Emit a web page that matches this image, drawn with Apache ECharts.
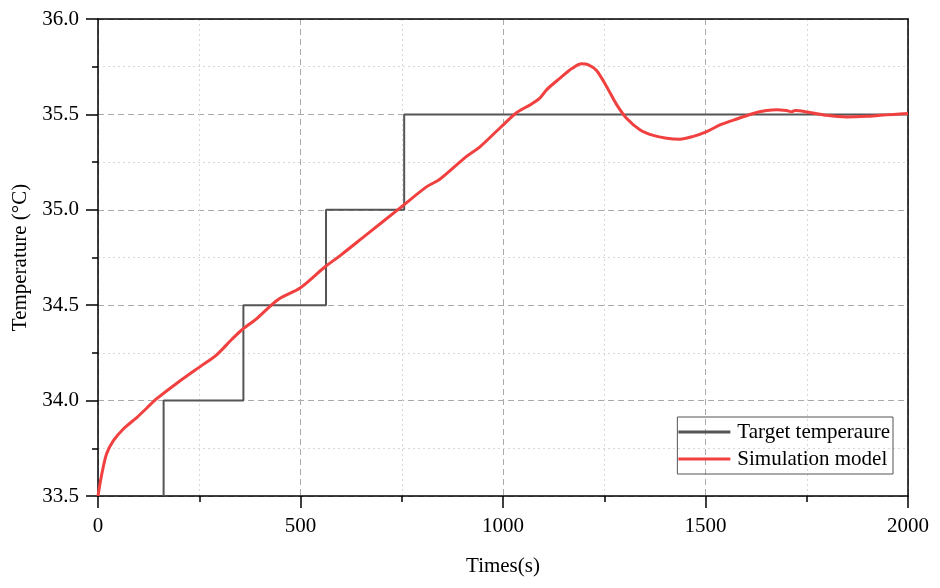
<!DOCTYPE html>
<html>
<head>
<meta charset="utf-8">
<script src="https://cdn.jsdelivr.net/npm/echarts@6/dist/echarts.min.js"></script>
<style>
  html, body { margin: 0; padding: 0; background: #fff; }
  #chart { width: 940px; height: 588px; }
</style>
</head>
<body>
<div id="chart"></div>
<script>
// target temperature (step profile)
var targetTimes = [162, 162, 359, 359, 563, 563, 756, 756, 2000];
var targetTemps = [33.5, 34.0, 34.0, 34.5, 34.5, 35.0, 35.0, 35.5, 35.5];

// simulation model response
var simTimes = [0, 8, 21, 38, 62, 95, 120, 145, 194, 260, 293, 330, 355, 392, 445, 499,
  560, 598, 663, 746, 811, 844, 910, 943, 993, 1034, 1067, 1091, 1108, 1141, 1170,
  1194, 1211, 1231, 1256, 1281, 1305, 1338, 1371, 1404, 1437, 1470, 1503, 1536, 1569,
  1618, 1651, 1676, 1700, 1713, 1721, 1758, 1799, 1849, 1898, 1931, 1964, 2000];
var simTemps = [33.50, 33.60, 33.72, 33.79, 33.85, 33.91, 33.96, 34.01, 34.09, 34.19, 34.24,
  34.32, 34.37, 34.43, 34.53, 34.59, 34.70, 34.76, 34.87, 35.01, 35.12, 35.16, 35.28,
  35.33, 35.43, 35.51, 35.55, 35.585, 35.63, 35.69, 35.74, 35.765, 35.76, 35.73, 35.645,
  35.55, 35.48, 35.42, 35.39, 35.375, 35.37, 35.385, 35.41, 35.445, 35.47, 35.505, 35.52,
  35.525, 35.52, 35.514, 35.52, 35.51, 35.495, 35.487, 35.49, 35.495, 35.50, 35.505];

var seriesNames = ['Target temperaure', 'Simulation model'];
var seriesColors = ['#555', '#f0403f'];

function pairs(xs, ys) {
  return xs.map(function (x, i) { return [x, ys[i]]; });
}

var font = '"Liberation Serif", "Times New Roman", serif';

var tickStyle = { color: '#000', width: 1.5 };
var mainLine = { onZero: false, lineStyle: { color: '#000', width: 1.5 } };
var majorGrid = { show: true, lineStyle: { color: '#aaa', type: [6, 4], width: 1 } };
var minorGrid = { show: true, lineStyle: { color: '#d8d8d8', type: [2, 3], width: 1 } };
var labelFont = { fontFamily: font, fontSize: 21, color: '#000' };

// plain frame lines for top and right
var frameAxis = {
  type: 'value',
  axisLine: mainLine,
  axisTick: { show: false },
  axisLabel: { show: false },
  splitLine: { show: false }
};

var chart = echarts.init(document.getElementById('chart'));

var option = {
  backgroundColor: '#fff',
  animation: false,
  grid: { left: 98, right: 32, top: 19, bottom: 92 },
  legend: {
    orient: 'vertical',
    right: 47, top: 417,
    icon: 'rect',
    itemWidth: 52, itemHeight: 3, itemGap: 5,
    padding: [4, 3, 4, 1],
    borderColor: '#555', borderWidth: 1,
    textStyle: { fontFamily: font, fontSize: 21, color: '#000', lineHeight: 22, padding: [0, 0, 0, 2] },
    data: seriesNames
  },
  xAxis: [
    {
      type: 'value',
      min: 0, max: 2000, interval: 500,
      name: 'Times(s)', nameLocation: 'middle', nameGap: 60,
      nameTextStyle: labelFont,
      axisLine: mainLine,
      axisTick: { inside: false, length: 12, lineStyle: tickStyle },
      minorTick: { show: true, splitNumber: 2, length: 6, lineStyle: tickStyle },
      axisLabel: Object.assign({ margin: 20, formatter: function (v) { return String(v); } }, labelFont),
      splitLine: majorGrid,
      minorSplitLine: minorGrid
    },
    Object.assign({ position: 'top', min: 0, max: 2000 }, frameAxis)
  ],
  yAxis: [
    {
      type: 'value',
      min: 33.5, max: 36.0, interval: 0.5,
      name: 'Temperature (°C)', nameLocation: 'middle', nameGap: 66,
      nameTextStyle: labelFont,
      axisLine: mainLine,
      axisTick: { inside: false, length: 12, lineStyle: tickStyle },
      minorTick: { show: true, splitNumber: 2, length: 6, lineStyle: tickStyle },
      axisLabel: Object.assign({ margin: 19, formatter: function (v) { return v.toFixed(1); } }, labelFont),
      splitLine: majorGrid,
      minorSplitLine: minorGrid
    },
    Object.assign({ position: 'right', min: 33.5, max: 36.0 }, frameAxis)
  ],
  series: [
    {
      name: seriesNames[0],
      type: 'line',
      data: pairs(targetTimes, targetTemps),
      symbol: 'none',
      lineStyle: { color: seriesColors[0], width: 2 },
      itemStyle: { color: seriesColors[0] },
      z: 2
    },
    {
      name: seriesNames[1],
      type: 'line',
      data: pairs(simTimes, simTemps),
      symbol: 'none',
      smooth: 0.3,
      lineStyle: { color: seriesColors[1], width: 3 },
      itemStyle: { color: seriesColors[1] },
      z: 3
    }
  ]
};

chart.setOption(option);
</script>
</body>
</html>
